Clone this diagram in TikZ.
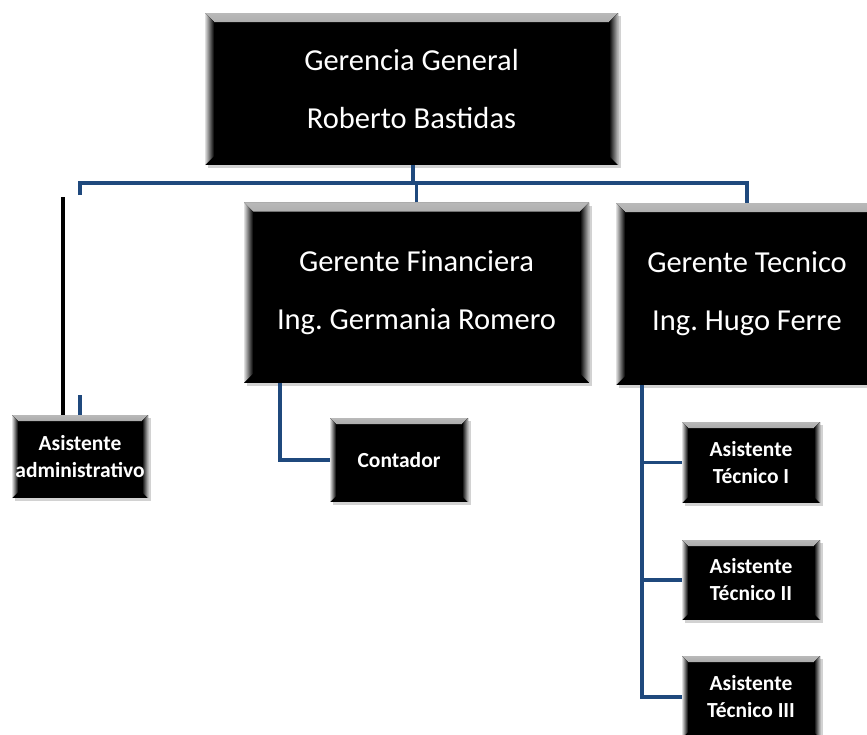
\documentclass[tikz,border=0pt]{standalone}
\usepackage{fontspec}
\setmainfont{Carlito}
\usetikzlibrary{shadows}
\definecolor{lineblue}{HTML}{1F497D}
\tikzset{
  orgbox/.style={rectangle, fill=black, text=white, align=center, inner sep=0pt,
    drop shadow={shadow xshift=3pt, shadow yshift=-3pt, fill=gray!70, opacity=0.5},
    path picture={
      \fill[top color=gray!55, bottom color=black]
        (path picture bounding box.north west) -- (path picture bounding box.north east)
        -- ([xshift=-#1,yshift=-#1]path picture bounding box.north east)
        -- ([xshift=#1,yshift=-#1]path picture bounding box.north west) -- cycle;
      \fill[left color=black, right color=gray!50]
        (path picture bounding box.north east) -- (path picture bounding box.south east)
        -- ([xshift=-#1,yshift=#1]path picture bounding box.south east)
        -- ([xshift=-#1,yshift=-#1]path picture bounding box.north east) -- cycle;
      \fill[right color=black, left color=gray!25]
        (path picture bounding box.north west) -- (path picture bounding box.south west)
        -- ([xshift=#1,yshift=#1]path picture bounding box.south west)
        -- ([xshift=#1,yshift=-#1]path picture bounding box.north west) -- cycle;
    }},
  bigbox/.style={orgbox=9pt, font=\fontsize{30.5}{58}\selectfont},
  smallbox/.style={orgbox=6pt, font=\fontsize{21.5}{27}\selectfont\bfseries},
  conn/.style={draw=lineblue, line width=3.5pt},
  blk/.style={draw=black, line width=4pt}
}
\begin{document}
\begin{tikzpicture}[x=1pt,y=-1pt]
\useasboundingbox (0,0) rectangle (867,734);
% nodes
\node[bigbox, minimum width=413pt, minimum height=152pt] (top) at (411.5,89) {Gerencia General\\Roberto Bastidas};
\node[bigbox, minimum width=345pt, minimum height=180pt] (fin) at (416.5,292.5) {Gerente Financiera\\Ing.\ Germania Romero};
\node[bigbox, minimum width=262pt, minimum height=182pt] (tec) at (747,294) {Gerente Tecnico\\Ing.\ Hugo Ferre};
\node[smallbox, minimum width=136pt, minimum height=83pt] (adm) at (80,456.5) {Asistente\\administrativo};
\node[smallbox, minimum width=138pt, minimum height=84pt] (cont) at (399,460) {Contador};
\node[smallbox, minimum width=138pt, minimum height=81pt] (t1) at (751,462.5) {Asistente\\Técnico I};
\node[smallbox, minimum width=138pt, minimum height=80pt] (t2) at (751,580) {Asistente\\Técnico II};
\node[smallbox, minimum width=138pt, minimum height=82pt] (t3) at (751,697) {Asistente\\Técnico III};
% coordinates
\coordinate (bus) at (0,183);
\coordinate (busL) at (80,195);
\coordinate (stubT) at (80,395);
\coordinate (blkT) at (63,197);
\coordinate (finA) at (280,383);
\coordinate (tecA) at (642,385);
% connectors
\draw[conn] ([xshift=1.5pt]top.south) -- ([xshift=1.5pt]top.south |- bus);
\draw[conn] (busL) -- (busL |- bus) -- (tec.north |- bus) -- (tec.north);
\draw[conn] (fin.north) -- (fin.north |- bus);
\draw[conn] (stubT) -- (adm.north);
\draw[blk] (blkT) -- (blkT |- adm.north);
\draw[conn] (finA) |- (cont.west);
\draw[conn] (tecA) |- (t3.west);
\draw[conn] (tecA |- t1.west) -- (t1.west);
\draw[conn] (tecA |- t2.west) -- (t2.west);
\end{tikzpicture}
\end{document}
